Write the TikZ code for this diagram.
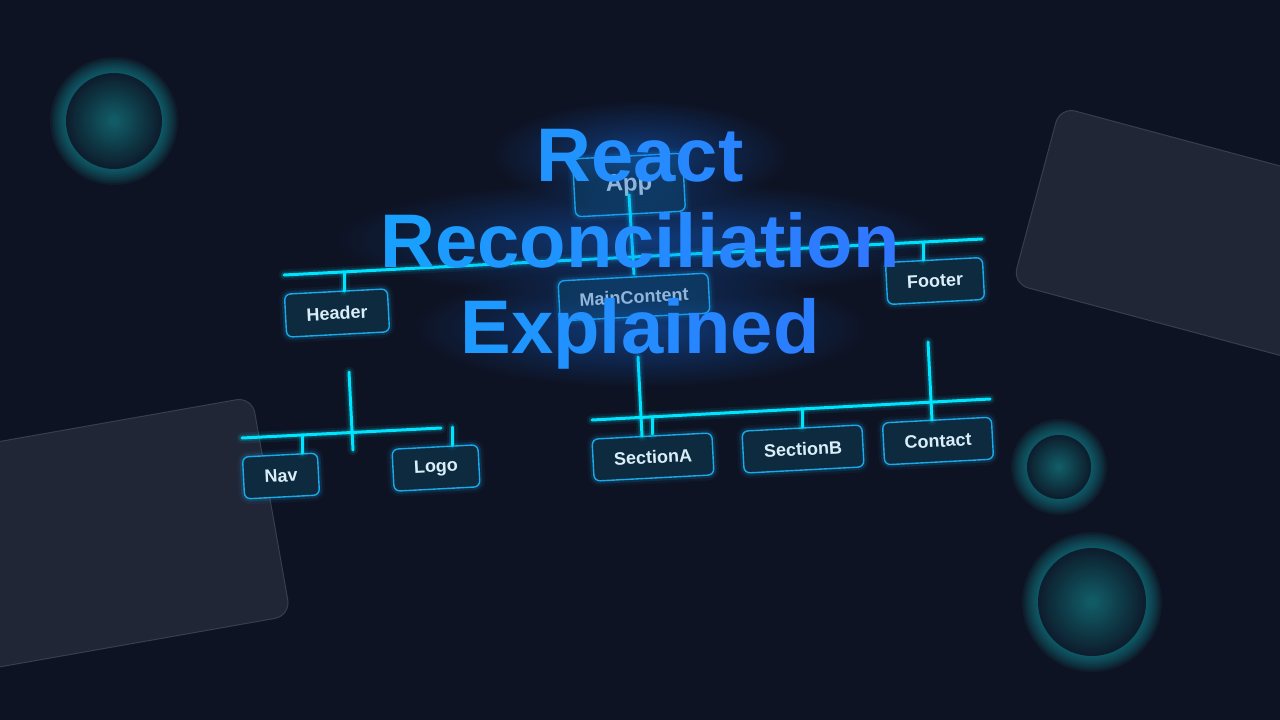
\documentclass[tikz,border=0pt]{standalone}
\usepackage{fontspec}
\setmainfont{Liberation Sans}
\usetikzlibrary{calc,fadings}
\definecolor{bg}{RGB}{14,19,35}
\definecolor{cardfill}{RGB}{33,38,54}
\definecolor{cardedge}{RGB}{55,62,82}
\definecolor{orbin}{RGB}{17,94,104}
\definecolor{orbout}{RGB}{13,30,46}
\definecolor{orbglow}{RGB}{20,175,185}
\definecolor{wirec}{RGB}{0,229,255}
\definecolor{nodefill}{RGB}{13,42,62}
\definecolor{nodeedge}{RGB}{24,170,235}
\definecolor{nodetext}{RGB}{218,238,250}
\definecolor{tA}{RGB}{24,162,255}
\definecolor{tB}{RGB}{48,118,255}
\definecolor{tglow}{RGB}{20,120,255}
\tikzfading[name=haze, inner color=transparent!60, outer color=transparent!100]
\newcommand\gc[2]{\textcolor{tB!#1!tA}{#2}}
\newcommand\orbat[3]{%
  \foreach \k in {10,9,...,1}{\fill[orbglow, fill opacity=0.06] (#1,#2) circle ({#3+1.6*\k});}
  \foreach \k in {0,...,19}{\pgfmathtruncatemacro\pp{5*\k}\fill[orbin!\pp!orbout] (#1,#2) circle ({#3*(1-\k/21)});}
}
\tikzset{
  card/.style={fill=cardfill, draw=cardedge, line width=1pt, rounded corners=16pt},
  wire/.style={draw=wirec, line width=3pt, line cap=round,
    preaction={draw=wirec, line width=11pt, draw opacity=0.07, line cap=round},
    preaction={draw=wirec, line width=6.5pt, draw opacity=0.16, line cap=round}},
  tnode/.style={draw=nodeedge, line width=1.4pt, fill=nodefill, rounded corners=6pt,
    rotate=3, inner sep=0pt, minimum height=42pt, text=nodetext,
    font=\bfseries\fontsize{18}{20}\selectfont,
    preaction={draw=nodeedge, line width=11pt, draw opacity=0.06},
    preaction={draw=nodeedge, line width=6pt, draw opacity=0.14}},
  titlefont/.style={font=\bfseries\fontsize{76}{86}\selectfont, inner sep=0pt, anchor=base},
  hazefill/.style={fill=tglow, path fading=haze}
}
\begin{document}
\begin{tikzpicture}[x=1pt,y=-1pt]
\useasboundingbox (0,0) rectangle (1280,720);
\clip (0,0) rectangle (1280,720);
\fill[bg] (0,0) rectangle (1280,720);

% background cards
\begin{scope}[shift={(1060,107)}, rotate=-15]
  \draw[card] (0,0) rectangle (420,183);
\end{scope}
\begin{scope}[shift={(252,397)}, rotate=10]
  \draw[card] (-420,0) rectangle (0,222);
\end{scope}

% orbs
\orbat{114}{121}{48}
\orbat{1059}{467}{32}
\orbat{1092}{602}{54}

% tree nodes
\node[tnode, minimum width=110pt, minimum height=58pt, font=\bfseries\fontsize{24}{26}\selectfont, text opacity=0.8] (App) at (629,185) {App};
\node[tnode, minimum width=103pt, minimum height=43pt] (Header) at (337,313) {Header};
\node[tnode, minimum width=150pt, minimum height=40pt, text opacity=0.8] (MainContent) at (634,297) {MainContent};
\node[tnode, minimum width=97pt] (Footer) at (935,281) {Footer};
\node[tnode, minimum width=75pt] (Nav) at (281,476) {Nav};
\node[tnode, minimum width=86pt] (Logo) at (436,468) {Logo};
\node[tnode, minimum width=120pt] (SectionA) at (653,457) {SectionA};
\node[tnode, minimum width=120pt] (SectionB) at (803,449) {SectionB};
\node[tnode, minimum width=109pt] (Contact) at (938,441) {Contact};

% connector end points
\coordinate (b1) at (284,275);  \coordinate (b2) at (982,239);
\coordinate (a1) at (629,195);  \coordinate (a2) at (634,274);
\coordinate (h1) at (344,273);  \coordinate (h2) at (344,291);
\coordinate (f1) at (923,243);  \coordinate (f2) at (923,260);
\coordinate (m1) at (638,357);  \coordinate (m2) at (642,436);
\coordinate (sa1) at (652,417); \coordinate (sa2) at (652,434);
\coordinate (r1) at (592,420);  \coordinate (r2) at (990,399);
\coordinate (sb1) at (802,410); \coordinate (sb2) at (802,427);
\coordinate (c1) at (928,342);  \coordinate (c2) at (932,420);
\coordinate (l1) at (242,438);  \coordinate (l2) at (441,428);
\coordinate (hd1) at (349,372); \coordinate (hd2) at (353,450);
\coordinate (n1) at (302,436);  \coordinate (n2) at (302,453);
\coordinate (g1) at (452,427);  \coordinate (g2) at (452,445);

% connectors
\draw[wire] (b1) -- (b2);
\draw[wire] (a1) -- (a2);
\draw[wire] (h1) -- (h2);
\draw[wire] (f1) -- (f2);
\draw[wire] (m1) -- (m2);
\draw[wire] (sa1) -- (sa2);
\draw[wire] (r1) -- (r2);
\draw[wire] (sb1) -- (sb2);
\draw[wire] (c1) -- (c2);
\draw[wire] (l1) -- (l2);
\draw[wire] (hd1) -- (hd2);
\draw[wire] (n1) -- (n2);
\draw[wire] (g1) -- (g2);

% title haze
\fill[hazefill] (640,155) ellipse (150 and 55);
\fill[hazefill] (640,240) ellipse (310 and 60);
\fill[hazefill] (640,328) ellipse (230 and 60);

% title
\node[titlefont] (t1) at (640,181) {\gc{35}{R}\gc{45}{e}\gc{53}{a}\gc{61}{c}\gc{69}{t}};
\node[titlefont] (t2) at (640,267) {\gc{5}{R}\gc{15}{e}\gc{23}{c}\gc{31}{o}\gc{40}{n}\gc{49}{c}\gc{55}{i}\gc{59}{l}\gc{63}{i}\gc{69}{a}\gc{75}{t}\gc{80}{i}\gc{86}{o}\gc{95}{n}};
\node[titlefont] (t3) at (640,353) {\gc{20}{E}\gc{29}{x}\gc{38}{p}\gc{44}{l}\gc{50}{a}\gc{56}{i}\gc{63}{n}\gc{71}{e}\gc{80}{d}};
\end{tikzpicture}
\end{document}
